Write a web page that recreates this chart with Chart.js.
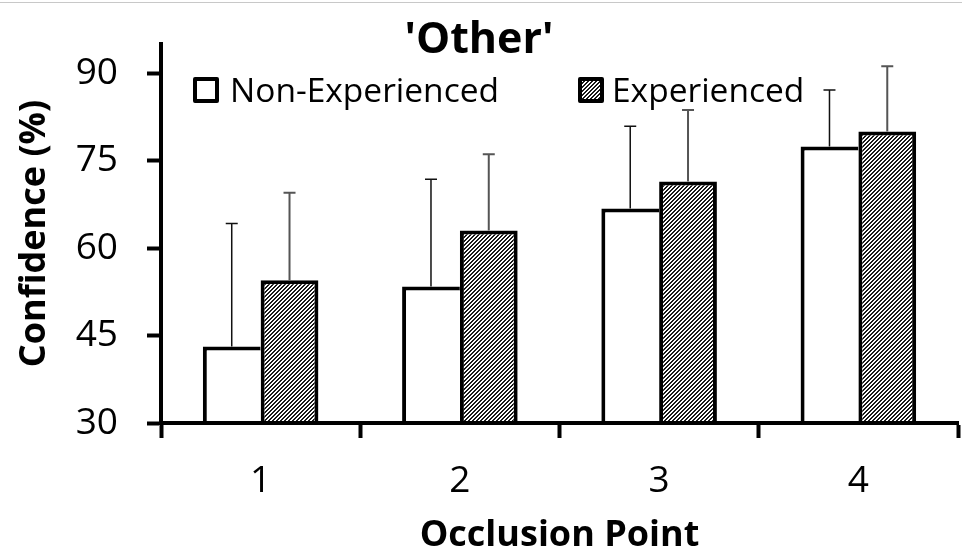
<!DOCTYPE html>
<html>
<head>
<meta charset="utf-8">
<script src="https://cdn.jsdelivr.net/npm/chart.js@4.4.1/dist/chart.umd.min.js"></script>
<style>
    html, body { margin: 0; padding: 0; background: #ffffff; }
    #wrap { width: 962px; height: 554px; position: relative; }
</style>
</head>
<body>
<div id="wrap"><canvas id="other-chart"></canvas></div>
<script>
// Data
const categories = ["1", "2", "3", "4"];
const nonExperienced = [43.1, 53.4, 66.8, 77.4];
const nonExperiencedSD = [21.1, 18.4, 14.1, 9.7];
const experienced = [54.5, 63.0, 71.4, 80.0];
const experiencedSD = [15.0, 13.1, 12.3, 11.2];
const yTicks = [30, 45, 60, 75, 90];

const FONT = "'Open Sans', 'Noto Sans', sans-serif";

// diagonal hatch pattern used for the "Experienced" bars
const makeHatch = () => {
    const c = document.createElement("canvas");
    c.width = 4;
    c.height = 4;
    const cx = c.getContext("2d");
    const img = cx.createImageData(4, 4);
    for (let y = 0; y < 4; y++) {
        for (let x = 0; x < 4; x++) {
            const dark = (x + y) % 4 === 0 || (x + y) % 4 === 1;
            const v = dark ? 26 : 255;
            const i = (y * 4 + x) * 4;
            img.data[i] = v;
            img.data[i + 1] = v;
            img.data[i + 2] = v;
            img.data[i + 3] = 255;
        }
    }
    cx.putImageData(img, 0, 0);
    return c;
};

const canvas = document.getElementById("other-chart");
const ctx = canvas.getContext("2d");
const hatch = ctx.createPattern(makeHatch(), "repeat");

// error bars (upper side only)
const errorBars = {
    id: "errorBars",
    afterDatasetsDraw(chart) {
        const c = chart.ctx;
        const yScale = chart.scales.y;
        const sds = [nonExperiencedSD, experiencedSD];
        const styles = [
            { color: "#111111", width: 1.5 },
            { color: "#555555", width: 2 },
        ];
        c.save();
        chart.data.datasets.forEach((ds, i) => {
            const meta = chart.getDatasetMeta(i);
            meta.data.forEach((bar, j) => {
                const top = yScale.getPixelForValue(ds.data[j] + sds[i][j]);
                c.strokeStyle = styles[i].color;
                c.lineWidth = styles[i].width;
                c.beginPath();
                c.moveTo(bar.x, bar.y);
                c.lineTo(bar.x, top);
                c.moveTo(bar.x - 6, top);
                c.lineTo(bar.x + 6, top);
                c.stroke();
            });
        });
        c.restore();
    },
};

// legend drawn inside the plot area, plus the thin frame line at the very top
const innerLegend = {
    id: "innerLegend",
    beforeDraw(chart) {
        const c = chart.ctx;
        c.save();
        c.fillStyle = "#c8c8c8";
        c.fillRect(0, 2, chart.width, 1);
        c.restore();
    },
    afterDraw(chart) {
        const c = chart.ctx;
        const spots = [
            { box: 195, text: 230 },
            { box: 580, text: 612 },
        ];
        c.save();
        chart.data.datasets.forEach((ds, i) => {
            const s = spots[i];
            c.fillStyle = ds.backgroundColor;
            c.fillRect(s.box, 79, 22, 22);
            c.strokeStyle = "#000000";
            c.lineWidth = 4;
            c.lineJoin = "round";
            c.strokeRect(s.box, 79, 22, 22);
            c.fillStyle = "#000000";
            c.font = `33.5px ${FONT}`;
            c.textBaseline = "middle";
            c.textAlign = "left";
            c.fillText(ds.label, s.text, 92);
        });
        c.restore();
    },
};

new Chart(canvas, {
    type: "bar",
    data: {
        labels: categories,
        datasets: [
            {
                label: "Non-Experienced",
                data: nonExperienced,
                backgroundColor: "#ffffff",
                borderColor: "#000000",
                borderWidth: { top: 4, left: 4, right: 0, bottom: 0 },
                borderSkipped: "bottom",
            },
            {
                label: "Experienced",
                data: experienced,
                backgroundColor: hatch,
                borderColor: "#000000",
                borderWidth: { top: 4, left: 4, right: 4, bottom: 0 },
                borderSkipped: "bottom",
            },
        ],
    },
    options: {
        responsive: true,
        maintainAspectRatio: false,
        animation: false,
        layout: { padding: { left: 0, right: 4, top: 0, bottom: 0 } },
        datasets: {
            bar: { categoryPercentage: 0.58, barPercentage: 1 },
        },
        scales: {
            x: {
                grid: {
                    offset: true,
                    drawOnChartArea: false,
                    drawTicks: true,
                    tickLength: 15,
                    tickWidth: 4,
                    tickColor: "#000000",
                },
                border: { display: true, color: "#000000", width: 4, z: 1 },
                ticks: {
                    color: "#000000",
                    font: { family: FONT, size: 37 },
                    padding: 21,
                },
                title: {
                    display: true,
                    text: "Occlusion Point",
                    color: "#000000",
                    font: { family: FONT, size: 36, weight: "bold" },
                    padding: { top: 0, bottom: -3 },
                },
                afterFit: (scale) => {
                    scale.height = 131;
                },
            },
            y: {
                min: 30,
                max: 95,
                grid: {
                    drawOnChartArea: false,
                    drawTicks: true,
                    tickLength: 14,
                    tickWidth: 4,
                    tickColor: "#000000",
                },
                border: { display: true, color: "#000000", width: 4 },
                ticks: {
                    color: "#000000",
                    font: { family: FONT, size: 37 },
                    padding: 29,
                },
                afterBuildTicks: (scale) => {
                    scale.ticks = yTicks.map((v) => ({ value: v }));
                },
                title: {
                    display: true,
                    text: "Confidence (%)",
                    color: "#000000",
                    font: { family: FONT, size: 36, weight: "bold" },
                    padding: { top: 13, bottom: 0 },
                },
                afterFit: (scale) => {
                    scale.width = 161;
                    // labels never reach the edges, so no extra room needed
                    scale.paddingTop = 0;
                    scale.paddingBottom = 0;
                },
            },
        },
        plugins: {
            legend: { display: false },
            tooltip: { enabled: false },
            title: {
                display: true,
                text: "'Other'",
                color: "#000000",
                font: { family: FONT, size: 43, weight: "bold", lineHeight: "6px" },
                padding: { top: 38, bottom: 0 },
            },
        },
    },
    plugins: [errorBars, innerLegend],
});
</script>
</body>
</html>
